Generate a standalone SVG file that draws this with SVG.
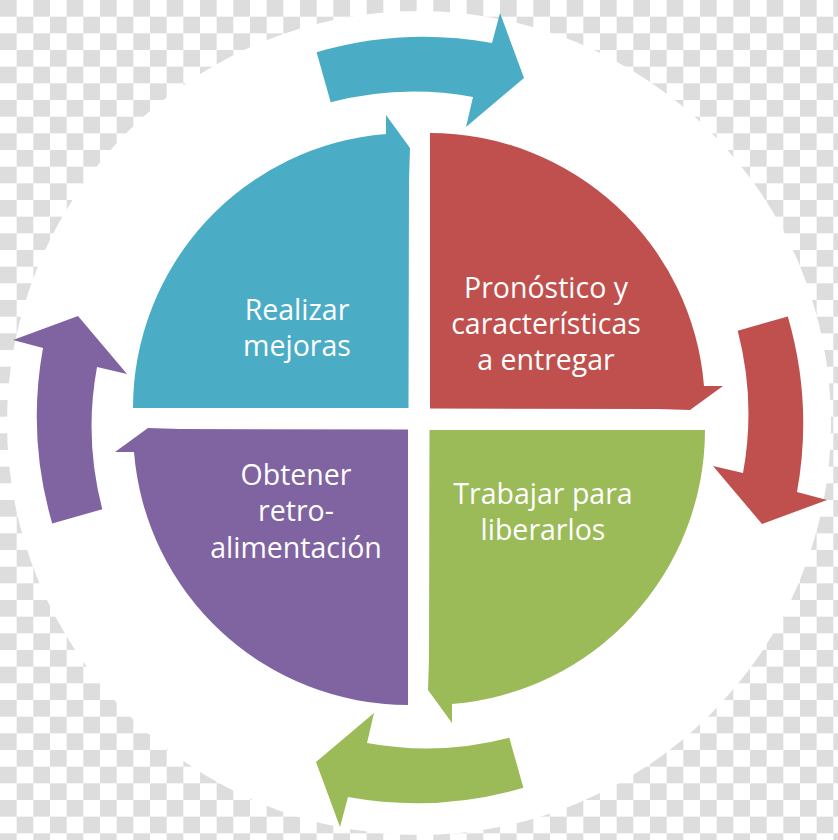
<svg xmlns="http://www.w3.org/2000/svg" xmlns:xlink="http://www.w3.org/1999/xlink" width="838" height="840" viewBox="0 0 838 840">
  <defs>
    <pattern id="checker" width="33.333" height="33.333" patternUnits="userSpaceOnUse">
      <rect width="33.333" height="33.333" fill="#ffffff"/>
      <rect width="16.667" height="16.667" fill="#dddddd"/>
      <rect x="16.667" y="16.667" width="16.667" height="16.667" fill="#dddddd"/>
    </pattern>
    <path id="sector" d="M408.5,408 L133,408 A275,275 0 0 1 386,134 L386,115 L410,148 L409,180 L408.5,408 Z"/>
    <path id="arrow" d="M316.6,52.2 A382,382 0 0 1 492,43 L500,13 L524,78 L466,127 L473,97 A328,328 0 0 0 330.7,102.3 Z"/>
    <style>
      .lbl { font-family: "Open Sans", "Liberation Sans", sans-serif; font-size: 28.5px; fill: #ffffff; text-anchor: middle; }
      .blue { fill: #4BACC6; }
      .red { fill: #C0504D; }
      .green { fill: #9BBB59; }
      .purple { fill: #8064A2; }
    </style>
  </defs>
  <rect width="838" height="840" fill="url(#checker)"/>
  <circle cx="419" cy="423" r="412" fill="#ffffff"/>

  <g id="connectors">
    <use xlink:href="#arrow" class="blue"/>
    <use xlink:href="#arrow" class="red" transform="rotate(90 420 420)"/>
    <use xlink:href="#arrow" class="green" transform="rotate(180 420 420)"/>
    <use xlink:href="#arrow" class="purple" transform="rotate(270 420 420)"/>
  </g>

  <g id="node-realizar">
    <use xlink:href="#sector" class="blue"/>
    <text class="lbl" x="297" y="320">Realizar</text>
    <text class="lbl" x="297" y="356">mejoras</text>
  </g>
  <g id="node-pronostico">
    <use xlink:href="#sector" class="red" transform="rotate(90 419 419)"/>
    <text class="lbl" x="546" y="298">Pronóstico y</text>
    <text class="lbl" x="546" y="334">características</text>
    <text class="lbl" x="546" y="370">a entregar</text>
  </g>
  <g id="node-trabajar">
    <use xlink:href="#sector" class="green" transform="rotate(180 419 419)"/>
    <text class="lbl" x="543" y="504">Trabajar para</text>
    <text class="lbl" x="543" y="540">liberarlos</text>
  </g>
  <g id="node-obtener">
    <use xlink:href="#sector" class="purple" transform="rotate(270 419 419)"/>
    <text class="lbl" x="296" y="485">Obtener</text>
    <text class="lbl" x="296" y="521">retro-</text>
    <text class="lbl" x="296" y="558">alimentación</text>
  </g>
</svg>
